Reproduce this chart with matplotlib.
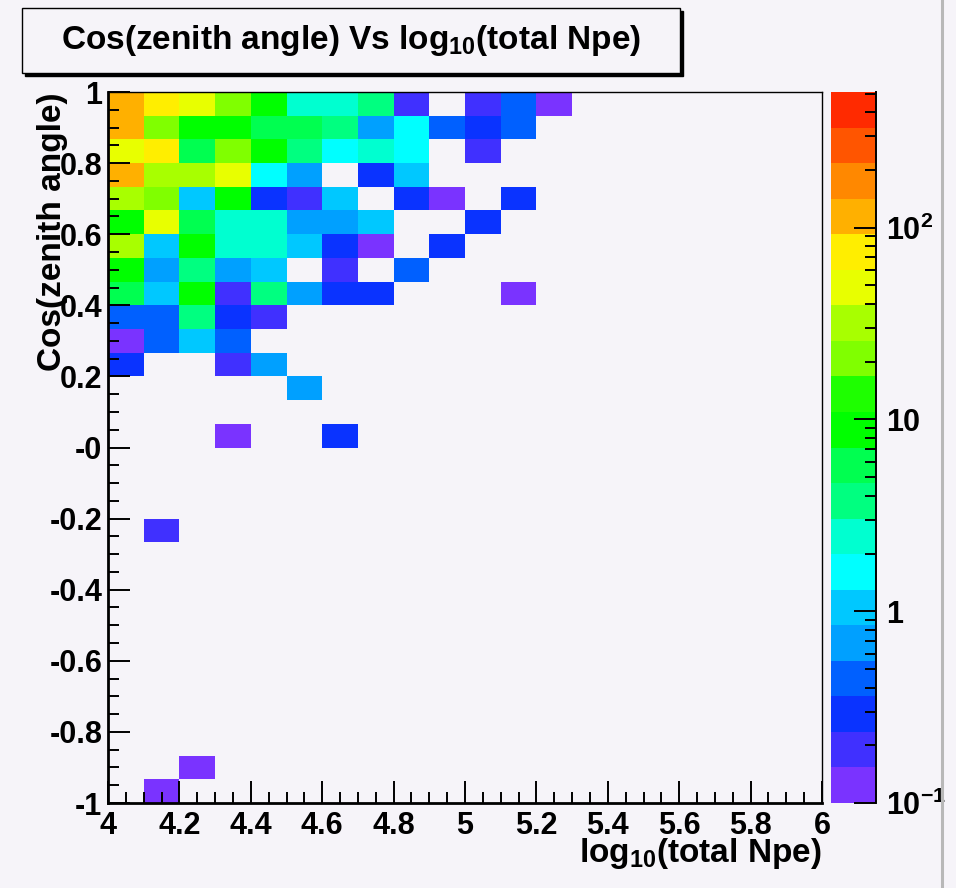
import numpy as np
import matplotlib
matplotlib.use('Agg')
import matplotlib.pyplot as plt
from matplotlib.colors import ListedColormap, LogNorm
from matplotlib.ticker import MultipleLocator, LogLocator, NullFormatter
from matplotlib.patches import Rectangle
from matplotlib.lines import Line2D

plt.rcParams['font.family'] = ['Liberation Sans', 'DejaVu Sans']
plt.rcParams['font.weight'] = 'bold'
plt.rcParams['mathtext.fontset'] = 'custom'
plt.rcParams['mathtext.rm'] = 'Liberation Sans:bold'
plt.rcParams['mathtext.it'] = 'Liberation Sans:bold'
plt.rcParams['mathtext.bf'] = 'Liberation Sans:bold'
plt.rcParams['mathtext.default'] = 'rm'

# ---------------- data ----------------
title = 'Cos(zenith angle) Vs log$_{10}$(total Npe)'
x_label = 'log$_{10}$(total Npe)'
y_label = 'Cos(zenith angle)'

x_edges = np.linspace(4.0, 6.0, 21)   # 20 bins in log10(total Npe)
y_edges = np.linspace(-1.0, 1.0, 31)  # 30 bins in cos(zenith)

# bin contents, one list per cos-bin, from the top bin (0.933..1) downward;
# columns start at log10(Npe) = 4.0 (bin width 0.1); 0 = empty bin
counts_top_down = [
    [110, 72, 47, 20, 8.6, 2.4, 2.4, 3.7, 0.19, 0, 0.19, 0.45, 0.12],
    [110, 20, 8.6, 8.6, 5.7, 5.7, 3.7, 0.68, 1.6, 0.45, 0.29, 0.45],
    [47, 72, 5.7, 20, 8.6, 3.7, 1.6, 2.4, 1.6, 0, 0.19],
    [110, 31, 31, 47, 1.6, 0.68, 0, 0.29, 1.0],
    [31, 20, 1.0, 8.6, 0.29, 0.19, 1.0, 0, 0.29, 0.12, 0, 0.29],
    [8.6, 47, 5.7, 2.4, 2.4, 0.68, 0.68, 1.0, 0, 0, 0.29],
    [31, 1.0, 8.6, 2.4, 2.4, 1.0, 0.29, 0.12, 0, 0.29],
    [8.6, 0.68, 3.7, 0.68, 1.0, 0, 0.19, 0, 0.45],
    [5.7, 1.0, 8.6, 0.19, 3.7, 0.68, 0.29, 0.29, 0, 0, 0, 0.12],
    [0.45, 0.45, 3.7, 0.29, 0.19],
    [0.12, 0.45, 1.0, 0.45],
    [0.29, 0, 0, 0.19, 0.68],
    [0, 0, 0, 0, 0, 0.68],
    [],
    [0, 0, 0, 0.12, 0, 0, 0.29],
    [],
    [],
    [],
    [0, 0.19],
    [], [], [], [], [], [], [], [], [], 
    [0, 0, 0.12],
    [0, 0.12],
]

x_ticks = [4.0, 4.2, 4.4, 4.6, 4.8, 5.0, 5.2, 5.4, 5.6, 5.8, 6.0]
x_tick_labels = ['4', '4.2', '4.4', '4.6', '4.8', '5', '5.2', '5.4', '5.6', '5.8', '6']
y_ticks = [-1.0, -0.8, -0.6, -0.4, -0.2, 0.0, 0.2, 0.4, 0.6, 0.8, 1.0]
y_tick_labels = ['-1', '-0.8', '-0.6', '-0.4', '-0.2', '-0', '0.2', '0.4', '0.6', '0.8', '1']
z_ticks = [0.1, 1, 10, 100]
z_tick_labels = ['$10^{-1}$', '1', '10', '$10^{2}$']
z_min, z_max = 0.1, 510

palette = ['#7a33ff', '#4030ff', '#0a33ff', '#0060ff', '#00a0ff',
           '#00c8ff', '#00ffff', '#00ffd0', '#00ff80', '#00ff50',
           '#00ff00', '#1eff00', '#80ff00', '#a8ff00', '#e8ff00',
           '#ffee00', '#ffb000', '#ff8800', '#ff5500', '#ff2a00']

bg = '#f6f4f9'

# ---------------- build grid ----------------
nrows, ncols = len(y_edges) - 1, len(x_edges) - 1
Z = np.zeros((nrows, ncols))
for r, row in enumerate(counts_top_down):
    Z[nrows - 1 - r, :len(row)] = row
Zm = np.ma.masked_less_equal(Z, 0)

W, H = 956, 888
fig = plt.figure(figsize=(W / 100, H / 100), dpi=100, facecolor=bg)

def fx(px):
    return px / W

def fy(py):
    return 1 - py / H

ax = fig.add_axes([fx(108), fy(803), fx(822) - fx(108), fy(92) - fy(803)])
ax.set_facecolor(bg)
cmap = ListedColormap(palette)
norm = LogNorm(vmin=z_min, vmax=z_max)
mesh = ax.pcolormesh(x_edges, y_edges, Zm, cmap=cmap, norm=norm,
                     shading='flat', antialiased=False)
ax.set_xlim(x_edges[0], x_edges[-1])
ax.set_ylim(y_edges[0], y_edges[-1])

ax.set_xticks(x_ticks)
ax.set_xticklabels(x_tick_labels)
ax.set_yticks(y_ticks)
ax.set_yticklabels(y_tick_labels)
ax.xaxis.set_minor_locator(MultipleLocator(0.05))
ax.yaxis.set_minor_locator(MultipleLocator(0.05))
ax.tick_params(which='major', direction='in', length=16, width=1.4,
               labelsize=22, top=False, right=False, color='black')
ax.tick_params(which='minor', direction='in', length=8, width=1.4,
               top=False, right=False)
ax.tick_params(axis='x', pad=6)
ax.tick_params(axis='y', pad=4)
for lab in ax.get_xticklabels() + ax.get_yticklabels():
    lab.set_fontweight('bold')
for s in ['left', 'bottom']:
    ax.spines[s].set_linewidth(2)
for s in ['top', 'right']:
    ax.spines[s].set_linewidth(1)

ax.set_xlabel(x_label, fontsize=24, fontweight='bold', loc='right')
ax.xaxis.set_label_coords(1.0, -0.047)
ax.set_ylabel(y_label, fontsize=24, fontweight='bold', loc='top')
ax.yaxis.set_label_coords(-0.056, 1.0)

# ---------------- colour bar ----------------
cax = fig.add_axes([fx(831), fy(803), fx(876) - fx(831), fy(92) - fy(803)])
cb = fig.colorbar(mesh, cax=cax)
cb.outline.set_visible(False)
cb.set_ticks(z_ticks)
cb.set_ticklabels(z_tick_labels)
cax.yaxis.set_minor_locator(LogLocator(base=10, subs=np.arange(2, 10)))
cax.yaxis.set_minor_formatter(NullFormatter())
cax.yaxis.set_ticks_position('right')
cax.tick_params(which='major', direction='in', length=16, width=1.4,
                labelsize=22, pad=7)
cax.tick_params(which='minor', direction='in', length=8, width=1.4)
cax.add_line(Line2D([1, 1], [0, 1], transform=cax.transAxes, color='black',
                    lw=1.4, clip_on=False))

# ---------------- title box ----------------
fig.patches.append(Rectangle((fx(25), fy(76)), fx(683) - fx(25), fy(11) - fy(76),
                             transform=fig.transFigure, facecolor='black',
                             edgecolor='black', zorder=1))
fig.patches.append(Rectangle((fx(22), fy(73)), fx(680) - fx(22), fy(8) - fy(73),
                             transform=fig.transFigure, facecolor=bg,
                             edgecolor='black', lw=1, zorder=2))
fig.text(fx(351), fy(40), title, ha='center', va='center', fontsize=24,
         fontweight='bold', zorder=3)

# canvas edge line on the right
fig.add_artist(Line2D([fx(942), fx(942)], [0, 1], transform=fig.transFigure,
                      color='#b8b8b8', lw=2.2))

fig.savefig('out.png', dpi=100, facecolor=bg)
